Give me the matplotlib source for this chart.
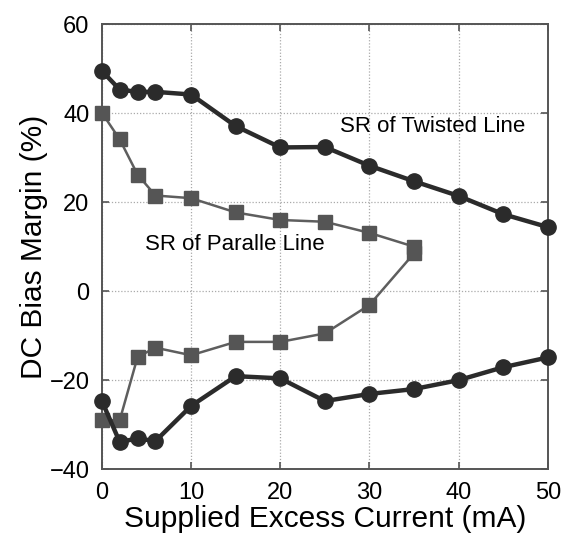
import matplotlib
matplotlib.use("Agg")
import matplotlib.pyplot as plt

# excess current (mA)
current = [0, 2, 4, 6, 10, 15, 20, 25, 30, 35, 40, 45, 50]
twisted_upper = [49.5, 45.3, 44.8, 44.8, 44.2, 37.1, 32.3, 32.4, 28.2, 24.7, 21.4, 17.3, 14.4]
twisted_lower = [-24.7, -33.9, -33.1, -33.7, -25.8, -19.1, -19.6, -24.7, -23.1, -22.0, -20.0, -17.1, -14.9]

# parallel line forms a closed-ish loop: upper branch out to 35 mA, lower branch back
par_current = [0, 2, 4, 6, 10, 15, 20, 25, 30, 35, 35, 30, 25, 20, 15, 10, 6, 4, 2, 0]
par_margin = [40.1, 34.1, 26.2, 21.5, 20.9, 17.7, 16.0, 15.6, 13.1, 10.0,
              8.5, -3.1, -9.5, -11.4, -11.4, -14.4, -12.7, -14.8, -29.0, -29.0]

plt.rcParams['font.family'] = ['Liberation Sans', 'DejaVu Sans']

fig = plt.figure(figsize=(5.63, 5.38), dpi=100)
ax = fig.add_axes([0.181, 0.128, 0.792, 0.827])

dark = '#2b2b2b'
grey = '#555555'

ax.plot(par_current, par_margin, color='#5e5e5e', lw=1.8, marker='s', ms=10,
        mfc=grey, mec=grey, zorder=3)
ax.plot(current, twisted_upper, color=dark, lw=3.2, marker='o', ms=11,
        mfc=dark, mec=dark, zorder=4)
ax.plot(current, twisted_lower, color=dark, lw=3.2, marker='o', ms=11,
        mfc=dark, mec=dark, zorder=4)

ax.text(26.7, 36.9, 'SR of Twisted Line', fontsize=16, va='center', ha='left')
ax.text(4.8, 10.6, 'SR of Paralle Line', fontsize=16, va='center', ha='left')

ax.set_xlim(0, 50)
ax.set_ylim(-40, 60)
ax.set_xticks(range(0, 51, 10))
ax.set_yticks(range(-40, 61, 20))
ax.grid(True, linestyle=(0, (1, 1.5)), color='#aaaaaa', lw=0.9)
ax.set_axisbelow(True)

for s in ax.spines.values():
    s.set_color('#555555')
    s.set_linewidth(1.4)
ax.tick_params(direction='in', length=5, width=1.2, color='#555555',
               top=True, right=True, labelsize=17, pad=9)

ax.set_xlabel('Supplied Excess Current (mA)', fontsize=21.5, labelpad=1)
ax.set_ylabel('DC Bias Margin (%)', fontsize=21.5, labelpad=1)

for m in ax.lines:
    m.set_clip_on(False)

fig.savefig('out.png', dpi=100)
